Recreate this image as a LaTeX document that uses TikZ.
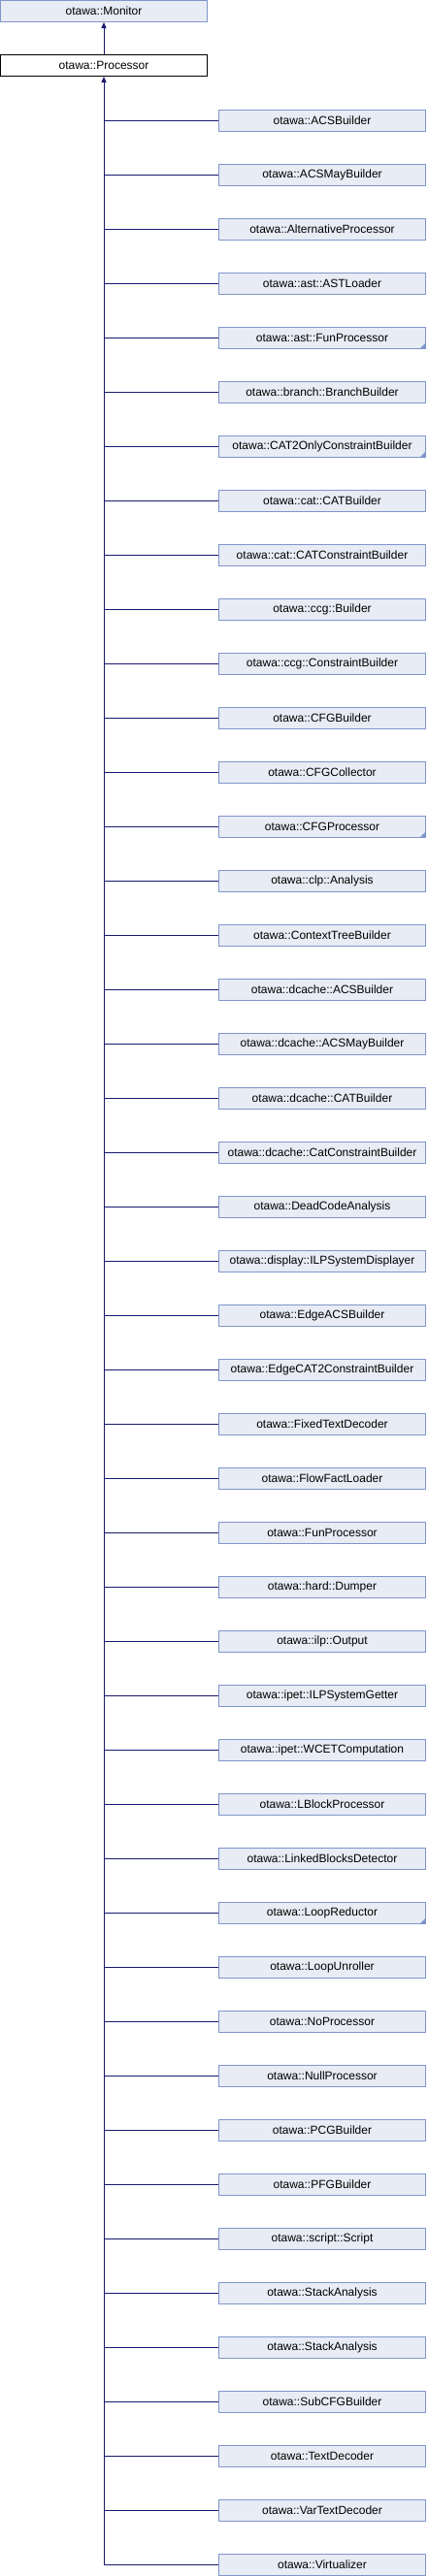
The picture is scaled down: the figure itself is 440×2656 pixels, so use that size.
\documentclass[tikz,border=0pt]{standalone}
\usepackage{fontspec}
\setmainfont{Liberation Sans}
\usepackage{xcolor}
\usepackage{tikz}
\usetikzlibrary{calc,arrows.meta,positioning}
\definecolor{boxfill}{HTML}{E8ECF4}
\definecolor{boxline}{HTML}{7F96CC}
\definecolor{edgeblue}{HTML}{191970}
\tikzset{
  cls/.style={draw=boxline, fill=boxfill, line width=1pt, minimum width=213pt,
    minimum height=22pt, inner sep=0pt, font=\fontsize{12}{14}\selectfont},
  base/.style={cls, draw=black, fill=white},
  inh/.style={draw=edgeblue, line width=1pt},
  uparrow/.style={inh, -{Triangle[length=6pt,width=5pt]}},
  more/.style={fill=boxline}
}

\begin{document}
\begin{tikzpicture}[x=1pt,y=-1pt]
  \useasboundingbox (0,0) rectangle (440,2656);

  \node[cls] (mon) at (107,11.5) {otawa::Monitor};
  \node[base] (proc) at (107,67.5) {otawa::Processor};
  \draw[uparrow] (proc.north) -- (mon.south);

  % derived classes, one every 56px
  \foreach \name [count=\i] in {ACSBuilder, ACSMayBuilder, AlternativeProcessor,
      ast::ASTLoader, ast::FunProcessor, branch::BranchBuilder,
      CAT2OnlyConstraintBuilder, cat::CATBuilder, cat::CATConstraintBuilder,
      ccg::Builder, ccg::ConstraintBuilder, CFGBuilder, CFGCollector,
      CFGProcessor, clp::Analysis, ContextTreeBuilder, dcache::ACSBuilder,
      dcache::ACSMayBuilder, dcache::CATBuilder, dcache::CatConstraintBuilder,
      DeadCodeAnalysis, display::ILPSystemDisplayer, EdgeACSBuilder,
      EdgeCAT2ConstraintBuilder, FixedTextDecoder, FlowFactLoader,
      FunProcessor, hard::Dumper, ilp::Output, ipet::ILPSystemGetter,
      ipet::WCETComputation, LBlockProcessor, LinkedBlocksDetector,
      LoopReductor, LoopUnroller, NoProcessor, NullProcessor, PCGBuilder,
      PFGBuilder, script::Script, StackAnalysis, StackAnalysis,
      SubCFGBuilder, TextDecoder, VarTextDecoder, Virtualizer}
  {
    \node[cls] (c\i) at (332,{124.5+56*(\i-1)}) {otawa::\name};
    \draw[inh] (c\i.west) -- (proc.south |- c\i.west);
  }

  \coordinate (trunk) at (proc.south |- c46.west);
  \draw[uparrow] (trunk) -- (proc.south);

  % classes that have more children
  \foreach \k in {5,7,14,34}
    \fill[more] ($(c\k.south east)+(-0.5,-0.5)$) -- ++(-6,0) -- ++(6,-6) -- cycle;
\end{tikzpicture}
\end{document}
